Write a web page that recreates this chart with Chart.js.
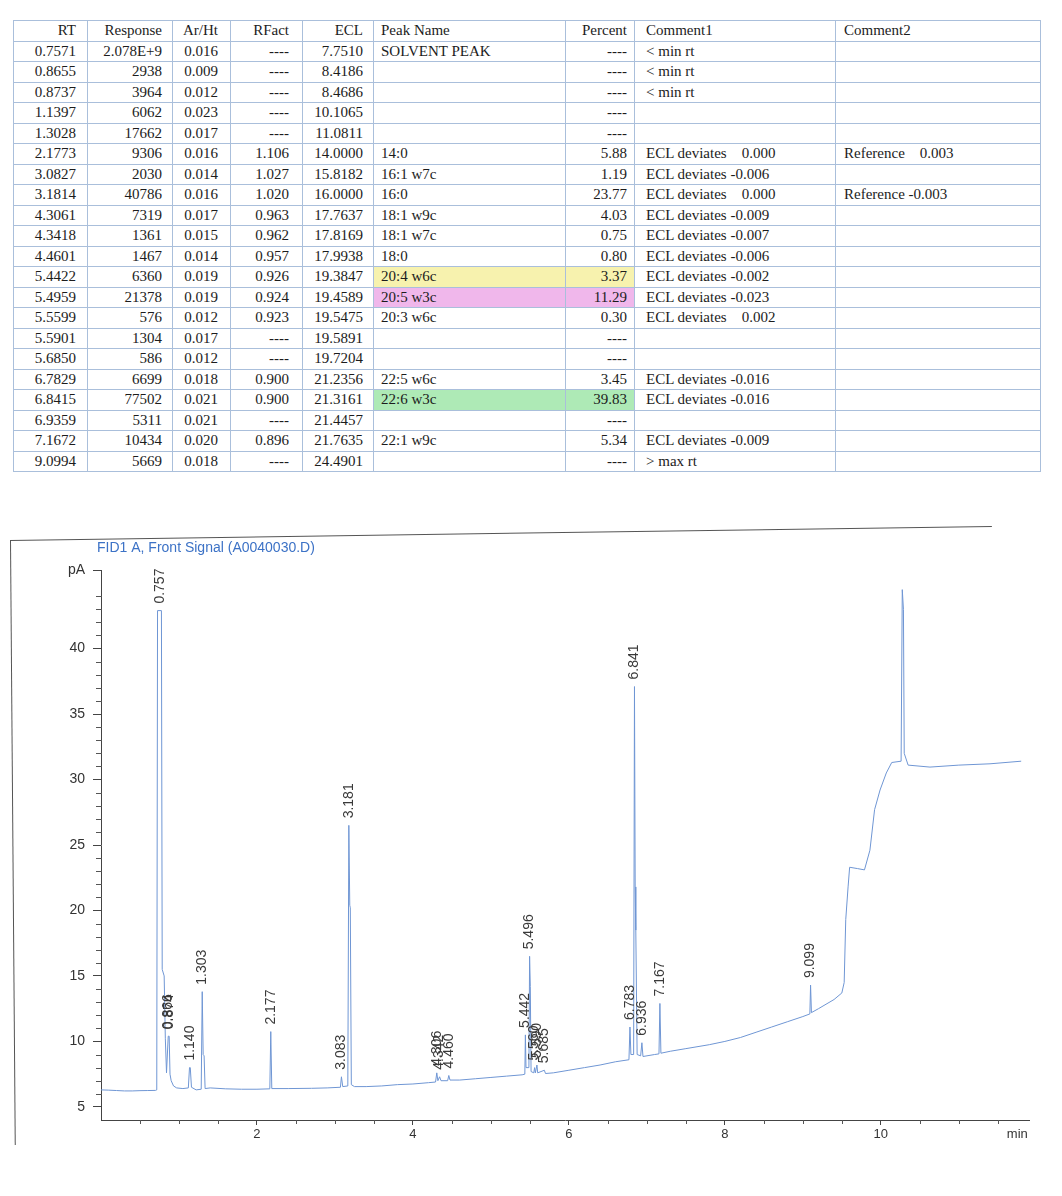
<!DOCTYPE html>
<html>
<head>
<meta charset="utf-8">
<script src="https://cdn.jsdelivr.net/npm/chart.js@4.4.1/dist/chart.umd.min.js"></script>
<style>
  body { margin:0; background:#fff; width:1062px; height:1196px; position:relative; overflow:hidden; }
  #peakTable { position:absolute; left:13px; top:20px; border-collapse:collapse; table-layout:fixed;
    font-family:"Liberation Serif","Times New Roman",serif; font-size:15px; color:#1c1c1c; }
  #peakTable td, #peakTable th { border:1px solid #aabfdb; height:19.5px; padding:0; white-space:pre;
    font-weight:normal; line-height:19px; overflow:hidden; }
  .r { text-align:right; }
  .l { text-align:left; }
  #chartBox { position:absolute; left:0; top:520px; width:1062px; height:620px; }
  .frameTop { position:absolute; left:10px; top:540px; width:982px; height:0; border-top:1px solid #555;
    transform-origin:0 0; transform:rotate(-0.82deg); }
  .frameLeft { position:absolute; left:10px; top:540px; width:0; height:605px; border-left:1px solid #555;
    transform-origin:0 0; transform:rotate(-0.45deg); }
</style>
</head>
<body>
<table id="peakTable"></table>
<div class="frameTop"></div>
<div class="frameLeft"></div>
<div id="chartBox"><canvas id="chromChart"></canvas></div>
<script>
// ---- peak report table ----
const tableHeaders = ['RT','Response','Ar/Ht','RFact','ECL','Peak Name','Percent','Comment1','Comment2'];
const rtValues = ['0.7571','0.8655','0.8737','1.1397','1.3028','2.1773','3.0827','3.1814','4.3061','4.3418','4.4601','5.4422','5.4959','5.5599','5.5901','5.6850','6.7829','6.8415','6.9359','7.1672','9.0994'];
const responseValues = ['2.078E+9','2938','3964','6062','17662','9306','2030','40786','7319','1361','1467','6360','21378','576','1304','586','6699','77502','5311','10434','5669'];
const arHtValues = ['0.016','0.009','0.012','0.023','0.017','0.016','0.014','0.016','0.017','0.015','0.014','0.019','0.019','0.012','0.017','0.012','0.018','0.021','0.021','0.020','0.018'];
const rFactValues = ['----','----','----','----','----','1.106','1.027','1.020','0.963','0.962','0.957','0.926','0.924','0.923','----','----','0.900','0.900','----','0.896','----'];
const eclValues = ['7.7510','8.4186','8.4686','10.1065','11.0811','14.0000','15.8182','16.0000','17.7637','17.8169','17.9938','19.3847','19.4589','19.5475','19.5891','19.7204','21.2356','21.3161','21.4457','21.7635','24.4901'];
const peakNames = ['SOLVENT PEAK','','','','','14:0','16:1 w7c','16:0','18:1 w9c','18:1 w7c','18:0','20:4 w6c','20:5 w3c','20:3 w6c','','','22:5 w6c','22:6 w3c','','22:1 w9c',''];
const percentValues = ['----','----','----','----','----','5.88','1.19','23.77','4.03','0.75','0.80','3.37','11.29','0.30','----','----','3.45','39.83','----','5.34','----'];
const comment1Values = ['< min rt','< min rt','< min rt','','','ECL deviates    0.000','ECL deviates -0.006','ECL deviates    0.000','ECL deviates -0.009','ECL deviates -0.007','ECL deviates -0.006','ECL deviates -0.002','ECL deviates -0.023','ECL deviates    0.002','','','ECL deviates -0.016','ECL deviates -0.016','','ECL deviates -0.009','> max rt'];
const comment2Values = ['','','','','','Reference    0.003','','Reference -0.003','','','','','','','','','','','','',''];
const highlightNames = ['20:4 w6c','20:5 w3c','22:6 w3c'];

// ---- chromatogram trace (min, pA) ----
const traceTime = [0.00,0.10,0.20,0.30,0.40,0.50,0.60,0.70,0.715,0.725,0.775,0.785,0.81,0.825,0.84,0.862,0.874,0.885,0.90,0.93,0.97,1.05,1.12,1.135,1.145,1.16,1.22,1.285,1.298,1.310,1.322,1.335,1.40,1.60,1.80,2.00,2.165,2.177,2.19,2.40,2.70,2.90,3.07,3.083,3.10,3.165,3.178,3.19,3.197,3.21,3.25,3.40,3.60,3.80,4.00,4.20,4.29,4.306,4.32,4.342,4.36,4.445,4.460,4.475,4.60,4.80,5.00,5.20,5.40,5.435,5.442,5.45,5.487,5.496,5.505,5.515,5.55,5.560,5.57,5.590,5.60,5.685,5.70,5.80,6.00,6.20,6.40,6.60,6.77,6.783,6.795,6.83,6.841,6.850,6.858,6.875,6.92,6.936,6.95,7.10,7.155,7.167,7.18,7.30,7.50,7.80,8.00,8.20,8.40,8.60,8.80,9.00,9.09,9.099,9.11,9.20,9.40,9.50,9.53,9.55,9.58,9.60,9.70,9.79,9.86,9.92,9.99,10.07,10.14,10.26,10.275,10.29,10.30,10.35,10.63,11.00,11.40,11.80];
const traceSignal = [6.30,6.28,6.25,6.22,6.22,6.24,6.25,6.26,6.30,42.9,42.9,15.5,15.0,10.2,7.6,10.4,10.4,7.5,7.0,6.6,6.45,6.40,6.45,8.0,8.0,6.5,6.30,6.35,13.8,9.0,8.9,6.4,6.45,6.38,6.35,6.35,6.38,10.75,6.40,6.40,6.42,6.45,6.50,7.3,6.55,6.60,26.5,20.4,20.2,6.7,6.55,6.55,6.60,6.70,6.75,6.85,6.90,7.6,7.0,7.3,7.0,7.0,7.4,7.05,7.05,7.15,7.25,7.35,7.45,7.5,10.5,8.0,8.0,16.5,14.2,7.7,7.6,8.0,7.6,8.2,7.6,7.8,7.55,7.6,7.8,8.0,8.2,8.45,8.6,11.1,9.0,9.0,37.1,21.8,18.5,9.0,8.9,9.9,8.85,9.0,9.05,12.9,9.1,9.25,9.45,9.75,10.0,10.3,10.7,11.1,11.5,11.9,12.1,14.3,12.2,12.5,13.2,13.7,14.5,19.3,21.8,23.3,23.2,23.1,24.6,27.7,29.2,30.5,31.3,31.4,44.5,43.0,32.0,31.1,30.95,31.1,31.2,31.4];

// labelled peaks: retention time label and apex height
const peakRT = ['0.757','0.866','0.874','1.140','1.303','2.177','3.083','3.181','4.306','4.342','4.460','5.442','5.496','5.560','5.590','5.685','6.783','6.841','6.936','7.167','9.099'];
const peakTop = [42.9,10.4,10.4,8.0,13.8,10.75,7.3,26.5,7.6,7.3,7.4,10.5,16.5,8.0,8.2,7.8,11.1,37.1,9.9,12.9,14.3];

const xTicks = [2,4,6,8,10,11.75];
const yTicks = [5,10,15,20,25,30,35,40,46];

// build table
const colWidths = [74,85,58,72,71,192,69,201,205];
const colAlign = ['r','r','r','r','r','l','r','l','l'];
const colPad = [[0,11],[0,10],[0,12],[0,13],[0,10],[7,0],[0,7],[11,0],[8,0]];
const columns = [rtValues,responseValues,arHtValues,rFactValues,eclValues,peakNames,percentValues,comment1Values,comment2Values];
const highlightColors = ['#f7f2ae','#f0b7eb','#aeeab6'];

const table = document.getElementById('peakTable');
let html = '<colgroup>' + colWidths.map(w => `<col style="width:${w}px">`).join('') + '</colgroup>';
html += '<tr>' + tableHeaders.map((h,i) =>
  `<th class="${colAlign[i]}" style="padding-left:${colPad[i][0]}px;padding-right:${colPad[i][1]}px">${h}</th>`).join('') + '</tr>';
rtValues.forEach((rt, r) => {
  const hi = highlightNames.indexOf(peakNames[r]);
  html += '<tr>';
  columns.forEach((col, c) => {
    let bg = '';
    if (hi >= 0 && (c === 5 || c === 6)) bg = `background:${highlightColors[hi]};`;
    const txt = col[r].replace(/&/g,'&amp;').replace(/</g,'&lt;').replace(/>/g,'&gt;');
    html += `<td class="${colAlign[c]}" style="${bg}padding-left:${colPad[c][0]}px;padding-right:${colPad[c][1]}px">${txt}</td>`;
  });
  html += '</tr>';
});
table.innerHTML = html;

// chart
const traceData = traceTime.map((t, i) => ({ x: t, y: traceSignal[i] }));
const LABEL_FONT = "14px 'Liberation Sans', Arial, sans-serif";

const chromPlugin = {
  id: 'chrom',
  afterDraw(chart) {
    const { ctx, chartArea, scales } = chart;
    const xs = scales.x, ys = scales.y;
    ctx.save();
    // minor ticks on y
    ctx.strokeStyle = '#555';
    ctx.lineWidth = 1;
    ctx.beginPath();
    for (let v = 5; v <= 45; v++) {
      if (v % 5 === 0) continue;
      const py = Math.round(ys.getPixelForValue(v)) + 0.5;
      ctx.moveTo(chartArea.left - 5, py);
      ctx.lineTo(chartArea.left + 1, py);
    }
    // minor ticks on x
    for (let t = 0.5; t <= 11.5; t += 0.5) {
      if (t % 2 === 0) continue;
      const px = Math.round(xs.getPixelForValue(t)) + 0.5;
      ctx.moveTo(px, chartArea.bottom);
      ctx.lineTo(px, chartArea.bottom + 4);
    }
    ctx.stroke();

    // signal title
    ctx.font = LABEL_FONT;
    ctx.fillStyle = '#3c72c6';
    ctx.textAlign = 'left';
    ctx.textBaseline = 'middle';
    ctx.fillText('FID1 A, Front Signal (A0040030.D)', chartArea.left - 4, chartArea.top - 22);

    // peak retention-time labels
    ctx.fillStyle = '#3a3a3a';
    peakRT.forEach((lbl, i) => {
      const px = xs.getPixelForValue(parseFloat(lbl));
      const py = ys.getPixelForValue(peakTop[i]) - 7;
      ctx.save();
      ctx.translate(px, py);
      ctx.rotate(-Math.PI / 2);
      ctx.fillText(lbl, 0, 0);
      ctx.restore();
    });
    ctx.restore();
  }
};

new Chart(document.getElementById('chromChart'), {
  type: 'line',
  data: {
    datasets: [{
      data: traceData,
      borderColor: '#6f96d4',
      borderWidth: 1,
      pointRadius: 0,
      tension: 0,
      fill: false
    }]
  },
  options: {
    responsive: true,
    maintainAspectRatio: false,
    animation: false,
    events: [],
    layout: { padding: { top: 50, right: 33, left: 0, bottom: 0 } },
    plugins: { legend: { display: false }, tooltip: { enabled: false } },
    scales: {
      x: {
        type: 'linear',
        min: 0,
        max: 11.9,
        afterBuildTicks: s => { s.ticks = xTicks.map(v => ({ value: v })); },
        afterFit: s => { s.height = 20; },
        border: { display: true, color: '#444', width: 1 },
        grid: {
          drawOnChartArea: false,
          drawTicks: true,
          tickLength: 5,
          tickColor: c => (c.tick && c.tick.value === 11.75) ? 'rgba(0,0,0,0)' : '#444'
        },
        ticks: {
          autoSkip: false,
          maxRotation: 0,
          padding: 2,
          color: '#333',
          font: { family: "'Liberation Sans', Arial, sans-serif", size: 13 },
          callback: v => v === 11.75 ? 'min' : String(v)
        }
      },
      y: {
        min: 4,
        max: 46,
        afterBuildTicks: s => { s.ticks = yTicks.map(v => ({ value: v })); },
        afterFit: s => { s.width = 101; },
        border: { display: true, color: '#444', width: 1 },
        grid: { drawOnChartArea: false, drawTicks: true, tickLength: 8, tickColor: '#444' },
        ticks: {
          autoSkip: false,
          padding: 8,
          color: '#333',
          font: { family: "'Liberation Sans', Arial, sans-serif", size: 14 },
          callback: v => v === 46 ? 'pA' : String(v)
        }
      }
    }
  },
  plugins: [chromPlugin]
});
</script>
</body>
</html>
